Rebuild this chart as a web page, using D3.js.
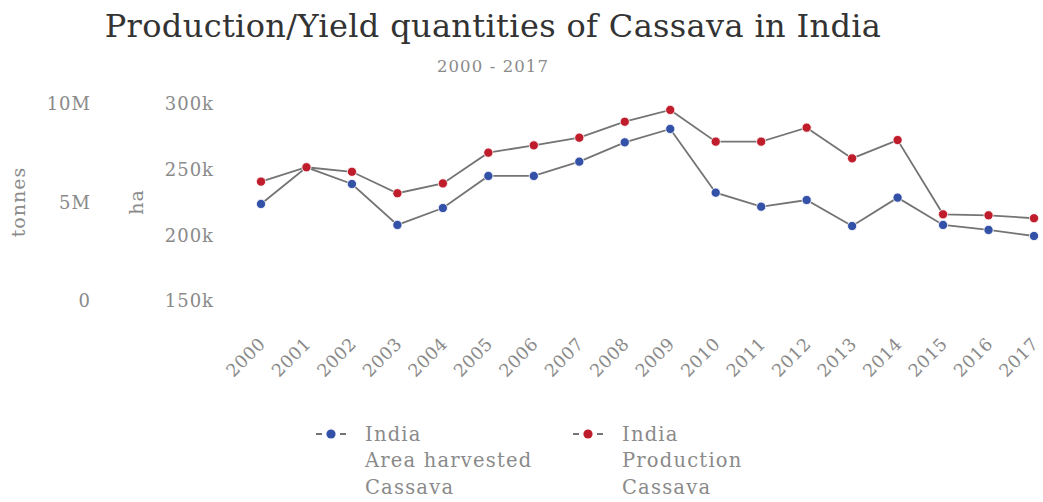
<!DOCTYPE html>
<html>
<head>
<meta charset="utf-8">
<script src="https://cdn.jsdelivr.net/npm/d3@7"></script>
<style>
  html, body { margin: 0; padding: 0; background: #fff; }
  svg { display: block; font-family: "DejaVu Serif", serif; }
</style>
</head>
<body>
<svg id="chart" width="1043" height="502"></svg>
<script>
// Cassava in India, 2000-2017
const years = [2000, 2001, 2002, 2003, 2004, 2005, 2006, 2007, 2008,
               2009, 2010, 2011, 2012, 2013, 2014, 2015, 2016, 2017];

// Area harvested (ha)
const areaHarvested = [223900, 251800, 239100, 207900, 220800, 245200, 245200, 256100, 270800,
                       281000, 232500, 221800, 226900, 207100, 228700, 207900, 204100, 199500];

// Production (tonnes)
const production = [6060000, 6790000, 6560000, 5470000, 5970000, 7530000, 7900000, 8290000, 9100000,
                     9700000, 8090000, 8090000, 8800000, 7240000, 8170000, 4400000, 4350000, 4200000];

const tonnesTicks = [0, 5000000, 10000000];
const haTicks = [150000, 200000, 250000, 300000];

const legendItems = [
  { lines: ["India", "Area harvested", "Cassava"], color: "#3451a8" },
  { lines: ["India", "Production", "Cassava"], color: "#c01d2c" }
];

const svg = d3.select("#chart");
const textGrey = "#8a8a8a";

// Title and subtitle
svg.append("text")
  .attr("x", 493).attr("y", 37)
  .attr("text-anchor", "middle")
  .attr("font-size", 32)
  .attr("letter-spacing", 0.35)
  .attr("fill", "#333")
  .text("Production/Yield quantities of Cassava in India");

svg.append("text")
  .attr("x", 493).attr("y", 72)
  .attr("text-anchor", "middle")
  .attr("font-size", 16.5)
  .attr("letter-spacing", 1.1)
  .attr("fill", textGrey)
  .text("2000 - 2017");

// Scales
const x = d3.scalePoint().domain(years).range([261, 1034]);
const yT = d3.scaleLinear().domain([0, 10000000]).range([301, 104]);
const yH = d3.scaleLinear().domain([150000, 300000]).range([301, 104]);

const fmt = d3.format("~s");

// Left axis: tonnes
const axT = svg.append("g")
  .attr("transform", "translate(99,0)")
  .call(d3.axisLeft(yT).tickValues(tonnesTicks).tickFormat(fmt).tickSize(0).tickPadding(8));
// Second axis: ha
const axH = svg.append("g")
  .attr("transform", "translate(222,0)")
  .call(d3.axisLeft(yH).tickValues(haTicks).tickFormat(fmt).tickSize(0).tickPadding(8));

[axT, axH].forEach(ax => {
  ax.select(".domain").remove();
  ax.selectAll("text")
    .attr("font-family", "DejaVu Serif, serif")
    .attr("font-size", 18)
    .attr("letter-spacing", 1)
    .attr("fill", textGrey);
});

// Axis titles
svg.append("text")
  .attr("transform", "translate(18,202) rotate(-90)")
  .attr("text-anchor", "middle").attr("dy", "0.35em")
  .attr("font-size", 19).attr("letter-spacing", 1).attr("fill", textGrey)
  .text("tonnes");
svg.append("text")
  .attr("transform", "translate(136,202) rotate(-90)")
  .attr("text-anchor", "middle").attr("dy", "0.35em")
  .attr("font-size", 19).attr("letter-spacing", 1).attr("fill", textGrey)
  .text("ha");

// X axis labels (rotated)
const axX = svg.append("g")
  .attr("transform", "translate(0,330)")
  .call(d3.axisBottom(x).tickSize(0).tickPadding(0));
axX.select(".domain").remove();
axX.selectAll("text")
  .attr("font-family", "DejaVu Serif, serif")
  .attr("font-size", 17.5)
  .attr("letter-spacing", 0.5)
  .attr("fill", textGrey)
  .attr("text-anchor", "end")
  .attr("dy", 0)
  .attr("transform", "translate(5,15) rotate(-45)");

// Series
const series = [
  { values: areaHarvested, y: yH, color: legendItems[0].color },
  { values: production, y: yT, color: legendItems[1].color }
];

series.forEach(s => {
  const line = d3.line().x((d, i) => x(years[i])).y(d => s.y(d));
  svg.append("path")
    .datum(s.values)
    .attr("fill", "none")
    .attr("stroke", "#747474")
    .attr("stroke-width", 1.8)
    .attr("d", line);
  svg.append("g").selectAll("circle")
    .data(s.values)
    .join("circle")
    .attr("cx", (d, i) => x(years[i]))
    .attr("cy", d => s.y(d))
    .attr("r", 4.6)
    .attr("fill", s.color)
    .attr("stroke", "#fff")
    .attr("stroke-width", 0.8);
});

// Legend
const legendX = [331, 588];
legendItems.forEach((item, k) => {
  const g = svg.append("g").attr("transform", `translate(${legendX[k]},434)`);
  g.append("line")
    .attr("x1", -15).attr("x2", 15)
    .attr("stroke", "#747474").attr("stroke-width", 1.8)
    .attr("stroke-dasharray", "6,6");
  g.append("circle").attr("r", 4.6).attr("fill", item.color);
  const t = g.append("text")
    .attr("font-size", 19.5).attr("letter-spacing", 1.2).attr("fill", textGrey);
  item.lines.forEach((ln, i) => {
    t.append("tspan").attr("x", 34).attr("y", i * 26.5).attr("dy", "0.35em").text(ln);
  });
});
</script>
</body>
</html>
